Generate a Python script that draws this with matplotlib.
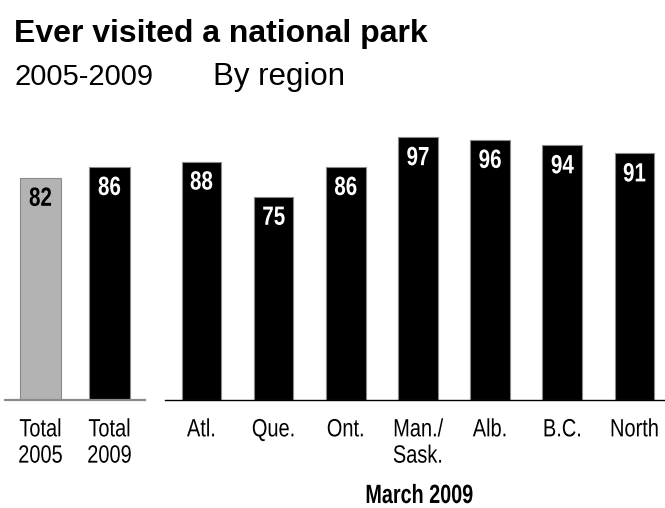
import matplotlib
matplotlib.use("Agg")
import matplotlib.pyplot as plt
from matplotlib.patheffects import AbstractPathEffect
from matplotlib.transforms import Affine2D

# Data
total_labels = ["Total\n2005", "Total\n2009"]
total_values = [82, 86]
region_labels = ["Atl.", "Que.", "Ont.", "Man./\nSask.", "Alb.", "B.C.", "North"]
region_values = [88, 75, 86, 97, 96, 94, 91]

FONT = ["Liberation Sans", "DejaVu Sans"]
plt.rcParams["font.family"] = FONT


class Narrow(AbstractPathEffect):
    """Horizontally condense text around its centre (emulates a narrow face)."""

    def __init__(self, sx=0.82):
        super().__init__()
        self.sx = sx

    def draw_path(self, renderer, gc, tpath, affine, rgbFace=None):
        ext = tpath.get_extents()
        cx = (ext.x0 + ext.x1) / 2
        t = Affine2D().translate(-cx, 0).scale(self.sx, 1).translate(cx, 0) + affine
        renderer.draw_path(gc, tpath, t, rgbFace)


W, H = 665, 508
fig = plt.figure(figsize=(W / 100, H / 100), dpi=100)


def px_axes(x0, x1, ytop, ybot):
    return fig.add_axes([x0 / W, (H - ybot) / H, (x1 - x0) / W, (ybot - ytop) / H])


ax1 = px_axes(5, 145, 129, 400)
ax2 = px_axes(165, 665, 129, 400)


def style(ax, spine_color, spine_lw):
    for s in ["top", "right", "left"]:
        ax.spines[s].set_visible(False)
    ax.spines["bottom"].set_color(spine_color)
    ax.spines["bottom"].set_linewidth(spine_lw)
    ax.set_ylim(0, 100)
    ax.set_yticks([])
    ax.tick_params(axis="x", length=0, pad=12.5)
    ax.patch.set_alpha(0)


def ticklabels(ax, labels):
    ax.set_xticklabels(labels, fontsize=18, linespacing=1.12)
    for t in ax.get_xticklabels():
        t.set_path_effects([Narrow(0.8)])


def value_labels(ax, xs, vals, colors):
    for xi, v, c in zip(xs, vals, colors):
        ax.annotate(str(v), (xi, v), xytext=(0, -6.5), textcoords="offset points",
                    ha="center", va="top", color=c, fontsize=19, fontweight="bold",
                    path_effects=[Narrow(0.78)])


# Left group
x1 = list(range(len(total_values)))
ax1.bar(x1, total_values, width=0.594, color=["#b3b3b3", "#000000"],
        edgecolor="#8a8a8a", linewidth=0.8, zorder=2)
ax1.set_xlim(-0.514, 1.514)
style(ax1, "#8a8a8a", 1.6)
ax1.set_xticks(x1)
ticklabels(ax1, total_labels)
value_labels(ax1, x1, total_values, ["#000000", "#ffffff"])

# Right group
x2 = list(range(len(region_values)))
ax2.bar(x2, region_values, width=0.549, color="#000000",
        edgecolor="#8a8a8a", linewidth=0.8, zorder=2)
ax2.set_xlim(-0.506, 6.424)
style(ax2, "#000000", 1.0)
ax2.set_xticks(x2)
ticklabels(ax2, region_labels)
value_labels(ax2, x2, region_values, ["#ffffff"] * len(region_values))

# Titles
fig.text(14 / W, (H - 42) / H, "Ever visited a national park",
         fontsize=23, fontweight="bold", va="baseline", ha="left")
fig.text(14 / W, (H - 85) / H, "2005-2009", fontsize=21,
         va="baseline", ha="left")
fig.text(213 / W, (H - 85) / H, "By region", fontsize=22.5,
         va="baseline", ha="left")
fig.text(419 / W, (H - 503) / H, "March 2009", fontsize=19,
         fontweight="bold", va="baseline", ha="center",
         path_effects=[Narrow(0.75)])

fig.savefig("out.png", dpi=100)
